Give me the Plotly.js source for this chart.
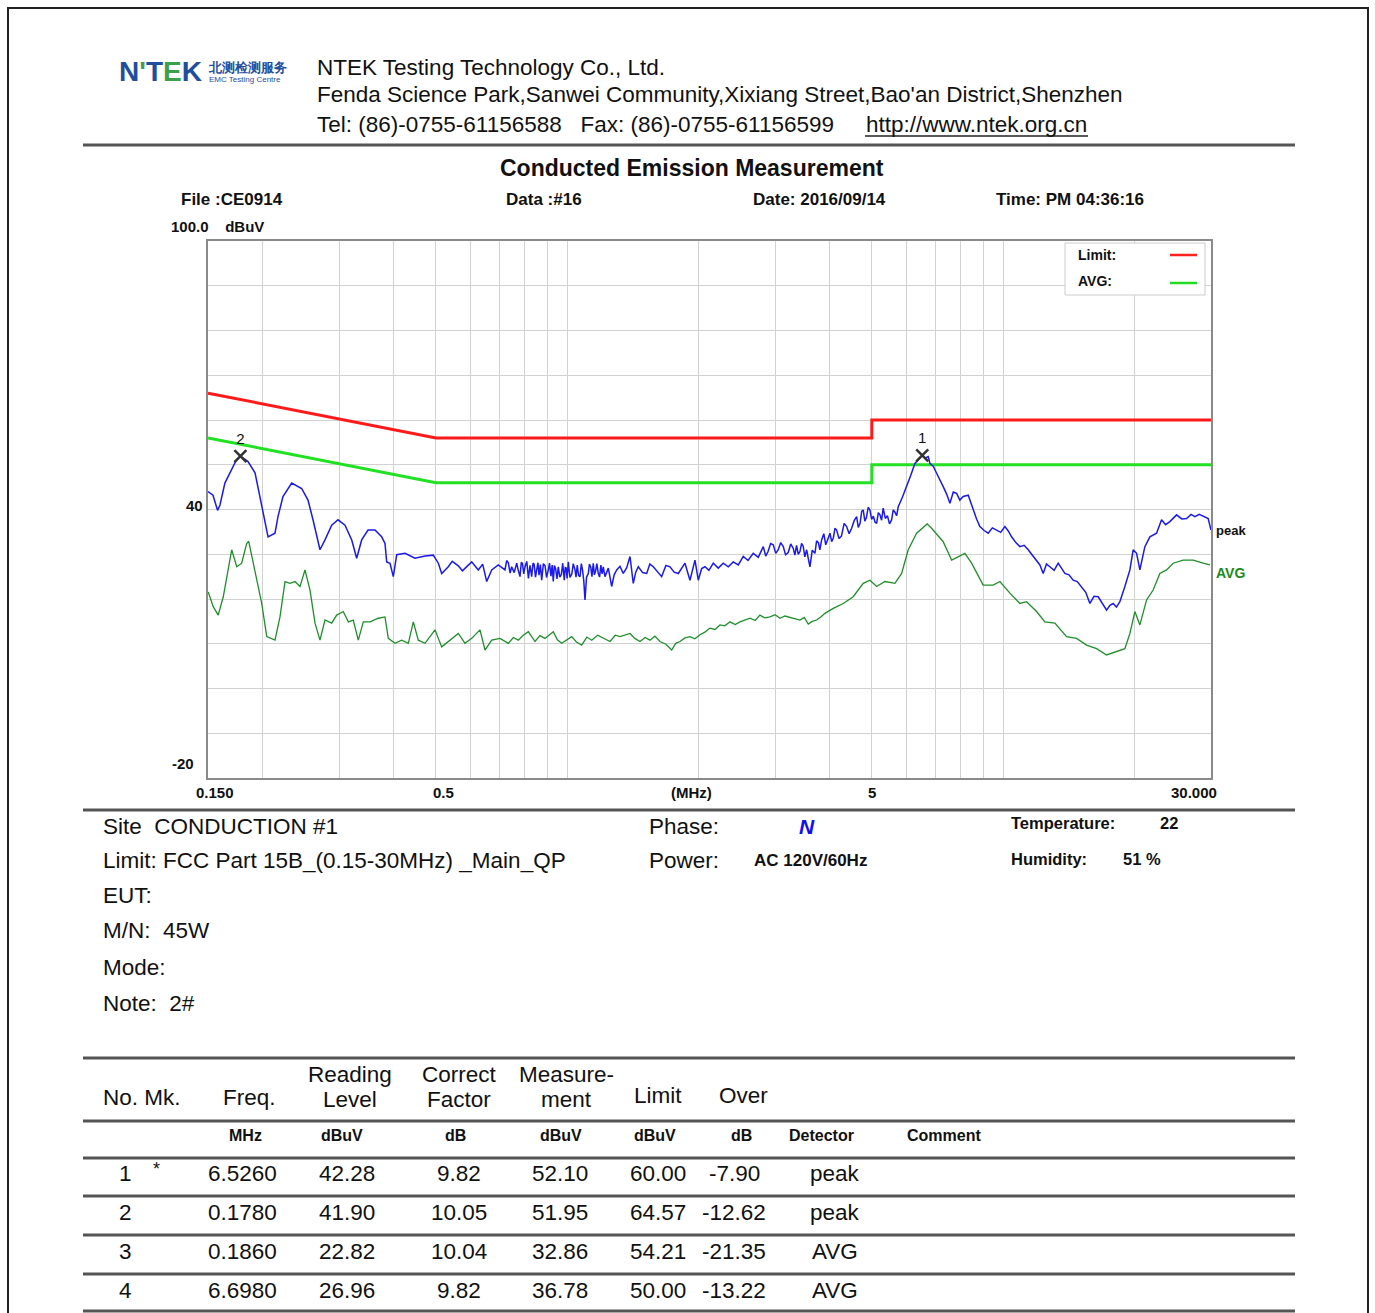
<!DOCTYPE html>
<html>
<head>
<meta charset="utf-8">
<script src="https://cdn.plot.ly/plotly-3.0.1.min.js"></script>
<style>
html,body{margin:0;padding:0;background:#fff;}
#chart{width:1375px;height:1313px;}
</style>
</head>
<body>
<div id="chart"></div>
<script>
// ---------------- DATA ----------------
const peakFreq = [0.150,0.154,0.1578,0.1598,0.1640,0.1700,0.1739,0.1780,0.1824,0.1853,0.1923,0.1973,0.2046,0.2060,0.2137,0.2171,0.2229,0.2334,0.2460,0.2544,0.2612,0.2710,0.2783,0.2883,0.2981,0.3093,0.3205,0.3290,0.3378,0.3493,0.3624,0.3754,0.3821,0.3855,0.3923,0.3992,0.4065,0.4247,0.4477,0.4720,0.4931,0.5064,0.5155,0.5338,
0.545,0.5628,0.575,0.5933,0.6040,0.6255,0.640,0.6539,0.6713,0.6952,0.7201,0.7265,0.733,0.740,0.7460,0.756,0.7661,0.773,0.7796,0.785,0.790,0.795,0.8005,0.808,0.815,0.822,0.8292,0.835,0.840,0.846,0.8515,0.857,0.862,0.868,0.8742,0.882,0.890,0.897,0.9053,0.911,0.918,0.924,0.9294,0.935,0.941,0.948,0.9544,0.962,0.970,0.977,0.9851,0.990,0.995,1.000,1.0062,1.015,1.025,1.033,1.0424,1.048,1.055,1.062,1.0703,1.078,1.085,1.092,1.0990,1.108,1.1184,1.125,1.133,1.140,1.1480,1.155,1.162,1.170,1.1790,1.187,1.195,1.203,1.2103,
1.2214,1.243,1.2653,1.282,1.2993,1.322,1.3453,1.370,1.3938,1.4182,1.437,1.4563,1.490,1.5223,1.548,1.5763,1.610,1.6477,1.685,1.7217,1.760,1.7989,1.8635,1.9135,1.9646,1.9993,2.035,2.0712,2.115,2.1640,2.222,2.2813,2.343,2.4050,2.470,2.5354,2.600,2.6729,2.745,
2.8179,2.855,2.890,2.930,2.9707,3.010,3.050,3.090,3.1318,3.170,3.215,3.258,3.3017,3.330,3.360,3.390,3.4208,3.450,3.480,3.510,3.5439,3.575,3.6063,3.650,3.7026,3.735,3.770,3.800,3.8357,3.880,3.920,3.965,4.0080,4.045,4.080,4.115,4.1523,4.205,4.260,4.320,4.3774,4.435,4.495,4.555,4.6148,4.655,4.700,4.740,4.7779,4.820,4.860,4.905,4.9508,4.995,5.040,5.085,5.1290,5.175,5.220,5.265,5.3102,5.370,5.430,5.490,5.5514,5.600,5.650,5.700,5.7492,
5.880,6.0095,6.140,6.2786,6.400,6.526,6.640,6.7362,6.7967,6.920,7.0413,7.160,7.2901,7.420,7.5539,7.690,7.8256,7.960,8.1022,8.3207,8.5417,8.700,8.8508,9.050,9.2477,9.450,9.6664,9.880,10.099,10.280,10.462,10.700,10.933,11.180,11.423,11.680,11.940,12.150,12.362,12.580,12.809,13.100,13.384,13.620,13.864,14.170,14.484,14.800,15.142,15.480,15.823,16.170,16.532,16.900,17.281,17.590,17.893,18.210,18.539,19.034,19.545,19.887,20.248,20.605,21.155,21.723,22.504,23.104,23.600,24.142,25.011,25.700,26.368,27.000,27.549,28.200,28.780,29.556,30.0];
const peakLevel = [44.0,43.2,39.8,41.0,45.9,48.8,50.9,51.95,51.3,50.7,48.2,42.9,35.4,33.9,34.7,38.4,42.9,45.9,44.7,42.1,37.7,31.0,33.2,36.5,37.7,36.5,33.2,29.1,33.2,35.4,35.4,33.9,32.4,28.3,28.0,25.0,29.9,30.2,29.1,29.6,29.8,28.0,25.7,27.2,
28.4,27.4,26.3,27.6,28.3,26.5,27.8,23.9,26.5,27.6,26.5,28.6,28.1,25.8,27.2,25.9,28.0,26.3,25.0,28.2,27.9,25.6,27.2,28.4,24.6,27.5,25.0,28.0,27.8,24.9,26.9,28.1,25.3,27.7,24.2,27.9,27.4,24.8,26.5,28.0,25.1,27.6,23.9,27.5,26.8,24.5,27.2,24.9,25.5,28.0,24.2,27.0,26.9,24.6,28.3,24.8,25.6,27.9,26.5,24.9,27.6,25.3,25.0,27.9,26.4,24.0,19.8,24.9,25.7,27.8,27.1,25.0,28.0,25.4,26.2,27.9,25.7,24.9,27.6,25.6,27.2,
25.0,26.9,22.8,25.4,26.5,27.3,25.7,27.0,29.5,23.5,26.0,27.2,25.9,25.7,27.8,27.2,26.1,25.0,27.5,27.2,26.0,25.7,28.0,24.2,28.7,24.2,26.8,27.2,26.4,28.0,26.9,28.0,27.2,28.3,27.6,29.5,28.6,30.2,29.3,
31.7,29.6,30.6,32.4,32.1,30.2,31.0,32.6,31.7,29.9,30.4,32.3,31.3,29.8,32.0,30.0,30.6,32.4,31.8,29.4,31.0,29.0,27.2,30.9,30.2,33.0,32.6,31.0,33.2,34.6,32.1,33.4,34.7,32.8,33.6,35.8,35.4,33.5,34.1,36.9,36.2,34.6,35.8,37.5,38.4,36.0,36.9,39.6,39.9,37.4,38.2,40.5,39.9,37.8,38.5,37.2,36.9,39.3,38.8,37.6,40.3,38.0,38.6,36.8,37.7,39.9,39.4,38.6,40.6,
42.8,45.1,47.6,50.3,51.2,52.10,51.5,51.8,50.3,49.6,48.1,46.8,45.1,43.5,41.4,43.9,43.6,42.1,42.9,43.2,39.9,37.8,36.2,35.3,34.7,35.9,35.4,34.9,36.2,35.2,33.9,32.6,31.7,32.0,31.0,29.8,28.7,27.6,25.7,27.8,27.2,26.4,28.0,26.9,25.7,25.4,24.2,23.9,22.8,21.5,19.0,20.6,20.5,18.9,17.5,18.6,19.0,18.2,19.4,22.8,26.5,31.0,30.2,26.5,31.7,33.9,34.7,37.7,36.6,37.3,38.8,37.9,38.0,38.9,38.4,38.9,38.5,38.0,35.4];

const avgFreq = [0.1502,0.1542,0.1583,0.1626,0.1700,0.1746,0.1792,0.1840,0.1860,0.1923,0.1992,0.2046,0.2137,0.2194,0.2253,0.2313,0.2375,0.2439,0.2504,0.2571,0.2640,0.2710,0.2783,0.2883,0.2960,0.3065,0.3148,0.3231,0.3318,0.3407,0.3530,0.3688,0.3821,0.3888,0.4028,0.4173,0.4322,0.4437,0.4556,0.4720,0.4976,0.5155,0.5386,0.5628,0.5830,0.6040,0.6311,0.6480,0.6713,0.7015,0.7329,0.7526,0.7726,0.7930,0.8146,0.8439,0.8660,0.8896,0.9294,0.9500,0.9716,1.0243,1.0500,1.0799,1.1100,1.1385,1.1750,1.2103,1.2542,1.2900,1.3222,1.3938,1.4300,1.4694,1.5100,1.5492,1.5900,1.6331,1.6850,1.7370,1.7750,1.8150,1.8640,1.9135,1.9640,2.0173,2.0700,2.1267,2.1850,2.2420,2.3000,2.3636,2.4300,2.4917,2.5600,2.6269,2.7000,2.7693,2.8400,2.9195,3.0000,3.0779,3.1600,3.2448,3.3300,3.4208,3.5000,3.5742,3.6500,3.7360,3.8200,3.9033,4.0778,4.2989,4.5321,4.7779,4.9508,5.1290,5.3587,5.6493,5.853,6.0610,6.3354,6.6192,6.698,6.8572,7.2901,7.6212,7.8926,8.1762,8.4702,9.0049,9.4932,9.8368,10.370,10.933,11.326,11.940,12.475,13.152,13.990,14.749,15.549,16.392,17.281,18.218,19.034,19.545,20.067,20.605,21.347,22.100,22.900,23.724,24.563,25.895,27.300,28.780,29.822];
const avgLevel = [21.6,18.3,16.4,20.5,31.0,27.2,28.0,32.4,32.9,26.5,19.0,11.6,10.8,16.0,23.9,23.5,23.9,22.8,26.5,22.0,14.6,10.8,15.3,14.6,16.4,17.2,14.9,15.3,10.8,14.9,14.9,15.7,16.0,11.2,10.1,10.8,10.1,14.9,10.8,10.1,13.1,9.3,10.8,12.3,10.1,11.2,13.1,8.6,10.8,11.2,10.1,11.4,10.8,11.9,12.7,10.5,11.8,11.2,12.7,10.9,10.1,11.6,10.4,9.7,11.5,10.8,11.9,11.2,10.5,11.9,11.6,12.3,11.2,10.5,11.4,10.8,11.7,10.5,9.9,8.6,10.1,10.5,11.3,11.6,11.1,12.0,12.6,13.5,13.2,14.2,14.0,14.9,14.3,14.9,15.4,15.7,15.2,16.4,15.8,16.0,16.5,15.7,16.2,15.9,15.5,15.3,15.9,14.4,15.0,15.3,16.0,16.8,17.9,19.0,20.5,23.5,24.2,22.8,23.9,23.5,25.7,31.0,34.7,36.3,36.78,35.8,32.8,28.7,29.5,30.2,28.0,23.1,23.1,23.9,21.3,19.0,19.4,17.2,14.9,14.6,11.6,11.2,9.7,8.9,7.5,8.2,8.9,12.3,17.2,14.2,19.8,22.0,25.7,26.5,28.0,28.7,28.7,28.0,27.6];

const limitFreq = [0.15, 0.5, 5, 5, 30];
const limitQP   = [66, 56, 56, 60, 60];
const limitAVG  = [56, 46, 46, 50, 50];

const markFreq  = [6.526, 0.178];
const markLevel = [52.10, 51.95];
const markLabel = ['1', '2'];

const xGridVals = [0.2,0.3,0.4,0.5,0.6,0.7,0.8,0.9,1,2,3,4,5,6,7,8,9,10,20];
const yGridVals = [-10,0,10,20,30,40,50,60,70,80,90];
const xTickVals = [0.15, 0.5, 5, 30];
const xTickText = ['0.150', '0.5', '5', '30.000'];

const tblNo       = ['1','2','3','4'];
const tblMk       = ['*','','',''];
const tblFreq     = ['6.5260','0.1780','0.1860','6.6980'];
const tblReading  = ['42.28','41.90','22.82','26.96'];
const tblCorrect  = ['9.82','10.05','10.04','9.82'];
const tblMeasure  = ['52.10','51.95','32.86','36.78'];
const tblLimit    = ['60.00','64.57','54.21','50.00'];
const tblOver     = ['-7.90','-12.62','-21.35','-13.22'];
const tblDetector = ['peak','peak','AVG','AVG'];

// ---------------- LAYOUT HELPERS ----------------
const W = 1375, H = 1313;
const L = 208, R = 1211, T = 241, B = 778;
const px = x => (x - L) / (R - L);
const py = y => (B - y) / (B - T);
const FONT = 'Liberation Sans, Arial, sans-serif';

const ann = [];
function txt(x, y, text, size, opts) {
  opts = opts || {};
  ann.push({
    xref: 'paper', yref: 'paper', x: px(x), y: py(y), text: text,
    showarrow: false, xanchor: opts.anchor || 'left', yanchor: 'middle',
    font: {family: FONT, size: size, color: opts.color || '#111'},
    align: opts.align || 'left'
  });
}
const shapes = [];
function hline(x0, x1, y, color, width) {
  shapes.push({type: 'line', xref: 'paper', yref: 'paper', x0: px(x0), x1: px(x1), y0: py(y), y1: py(y),
    line: {color: color, width: width}});
}

// Page frame
shapes.push({type:'rect', xref:'paper', yref:'paper', x0:px(8), x1:px(1368), y0:py(8), y1:py(1318),
  line:{color:'#222', width:2}, layer:'below'});

// Header
txt(117, 72, '<b><span style="color:#1f4e9e">N</span><span style="color:#3aa14a">\'</span><span style="color:#1f4e9e">T</span><span style="color:#3aa14a">E</span><span style="color:#1f4e9e">K</span></b>', 28);
txt(206, 67, '<b>北测检测服务</b>', 13, {color:'#1f4e9e'});
txt(207, 80, 'EMC Testing Centre', 8, {color:'#1f4e9e'});
txt(315, 67, 'NTEK Testing Technology Co., Ltd.', 22.5);
txt(315, 95, 'Fenda Science Park,Sanwei Community,Xixiang Street,Bao\'an District,Shenzhen', 22.5);
txt(315, 124, 'Tel: (86)-0755-61156588   Fax: (86)-0755-61156599', 22.5);
txt(864, 124, 'http://www.ntek.org.cn', 22.5);
hline(865, 1088, 136, '#222', 1.5);
hline(83, 1295, 145, '#555', 3);

txt(692, 168, '<b>Conducted Emission Measurement</b>', 23, {anchor:'center'});
txt(179, 200, '<b>File :CE0914</b>', 17);
txt(504, 200, '<b>Data :#16</b>', 17);
txt(751, 200, '<b>Date: 2016/09/14</b>', 17);
txt(994, 200, '<b>Time: PM 04:36:16</b>', 17);
txt(169, 226, '<b>100.0    dBuV</b>', 15);

// axis labels
txt(205, 505, '<b>40</b>', 15, {anchor:'right'});
txt(196, 763, '<b>-20</b>', 15, {anchor:'right'});
for (let i = 0; i < xTickVals.length; i++) {
  ann.push({xref:'x', yref:'paper', x: Math.log10(xTickVals[i]), y: py(792), text:'<b>'+xTickText[i]+'</b>',
    showarrow:false, xanchor: i===0 ? 'left' : (i===xTickVals.length-1 ? 'right' : 'center'), yanchor:'middle',
    xshift: i===1 ? 8 : (i===xTickVals.length-1 ? 8 : (i===0 ? -14 : 0)),
    font:{family:FONT, size:15, color:'#111'}});
}
txt(691, 792, '<b>(MHz)</b>', 15, {anchor:'center'});

// trace end labels
txt(1214, 530, '<b>peak</b>', 13);
txt(1214, 573, '<b>AVG</b>', 14, {color:'#1a8a1a'});

// legend box
shapes.push({type:'rect', xref:'paper', yref:'paper', x0:px(1065), x1:px(1205), y0:py(243), y1:py(295),
  line:{color:'#cccccc', width:1}, fillcolor:'#ffffff', layer:'above'});
txt(1076, 255, '<b>Limit:</b>', 14);
txt(1076, 281, '<b>AVG:</b>', 14);
hline(1170, 1197, 255, '#ff2020', 2.5);
hline(1170, 1197, 283, '#22dd22', 2.5);

// info block
hline(83, 1295, 810, '#555', 3);
txt(101, 826, 'Site  CONDUCTION #1', 22.5);
txt(101, 860, 'Limit: FCC Part 15B_(0.15-30MHz) _Main_QP', 22.5);
txt(101, 896, 'EUT:', 22.5);
txt(101, 931, 'M/N:  45W', 22.5);
txt(101, 967, 'Mode:', 22.5);
txt(101, 1003, 'Note:  2#', 22.5);
txt(647, 826, 'Phase:', 22.5);
txt(797, 826, '<b><i>N</i></b>', 21, {color:'#1010ee'});
txt(647, 860, 'Power:', 22.5);
txt(752, 860, '<b>AC 120V/60Hz</b>', 17);
txt(1009, 823, '<b>Temperature:</b>', 16.5);
txt(1158, 823, '<b>22</b>', 16.5);
txt(1009, 859, '<b>Humidity:</b>', 16.5);
txt(1121, 859, '<b>51 %</b>', 16.5);

// table
hline(83, 1295, 1058, '#555', 3);
txt(101, 1097, 'No. Mk.', 22.5);
txt(249, 1097, 'Freq.', 22.5, {anchor:'center'});
txt(350, 1074, 'Reading', 22.5, {anchor:'center'});
txt(350, 1099, 'Level', 22.5, {anchor:'center'});
txt(459, 1074, 'Correct', 22.5, {anchor:'center'});
txt(459, 1099, 'Factor', 22.5, {anchor:'center'});
txt(566, 1074, 'Measure-', 22.5, {anchor:'center'});
txt(566, 1099, 'ment', 22.5, {anchor:'center'});
txt(658, 1095, 'Limit', 22.5, {anchor:'center'});
txt(743, 1095, 'Over', 22.5, {anchor:'center'});
hline(83, 1295, 1121, '#555', 3);
txt(245, 1135, '<b>MHz</b>', 16, {anchor:'center'});
txt(342, 1135, '<b>dBuV</b>', 16, {anchor:'center'});
txt(455, 1135, '<b>dB</b>', 16, {anchor:'center'});
txt(561, 1135, '<b>dBuV</b>', 16, {anchor:'center'});
txt(655, 1135, '<b>dBuV</b>', 16, {anchor:'center'});
txt(741, 1135, '<b>dB</b>', 16, {anchor:'center'});
txt(821, 1135, '<b>Detector</b>', 16, {anchor:'center'});
txt(944, 1135, '<b>Comment</b>', 16, {anchor:'center'});
hline(83, 1295, 1158, '#555', 3);
const rowY = [1173, 1212, 1251, 1290];
for (let i = 0; i < tblNo.length; i++) {
  const y = rowY[i];
  txt(125, y, tblNo[i], 22.5, {anchor:'center'});
  if (tblMk[i]) txt(156, y - 4, tblMk[i], 18, {anchor:'center'});
  txt(242, y, tblFreq[i], 22.5, {anchor:'center'});
  txt(347, y, tblReading[i], 22.5, {anchor:'center'});
  txt(459, y, tblCorrect[i], 22.5, {anchor:'center'});
  txt(560, y, tblMeasure[i], 22.5, {anchor:'center'});
  txt(658, y, tblLimit[i], 22.5, {anchor:'center'});
  txt(734, y, tblOver[i], 22.5, {anchor:'center'});
  txt(835, y, tblDetector[i], 22.5, {anchor:'center'});
  hline(83, 1295, y + 23 + (i===3 ? -2 : 0), '#555', 3);
}

// ---------------- TRACES ----------------
const traces = [
  {x: limitFreq, y: limitQP, mode:'lines', line:{color:'#ff1a1a', width:3}, hoverinfo:'skip'},
  {x: limitFreq, y: limitAVG, mode:'lines', line:{color:'#22e022', width:3}, hoverinfo:'skip'},
  {x: avgFreq, y: avgLevel, mode:'lines', line:{color:'#1f8f2a', width:1.3}, hoverinfo:'skip'},
  {x: peakFreq, y: peakLevel, mode:'lines', line:{color:'#1a1aee', width:1.5}, hoverinfo:'skip'},
  {x: markFreq, y: markLevel, mode:'markers+text', text: markLabel, textposition:'top center',
   textfont:{family:FONT, size:15, color:'#111'},
   marker:{symbol:'x-thin-open', size:12, line:{color:'#333', width:2.5}, color:'#333'}, hoverinfo:'skip'}
];

const layout = {
  width: W, height: H,
  margin: {l: L, r: W - R, t: T, b: H - B, pad: 0},
  paper_bgcolor: '#ffffff', plot_bgcolor: '#ffffff',
  showlegend: false,
  xaxis: {type:'log', range:[Math.log10(0.15), Math.log10(30)], tickvals:xGridVals, showticklabels:false,
    ticks:'', showgrid:true, gridcolor:'#d2d2d2', gridwidth:1, zeroline:false,
    showline:true, mirror:true, linecolor:'#8a8a8a', linewidth:2},
  yaxis: {range:[-20, 100], tickvals:yGridVals, showticklabels:false, ticks:'',
    showgrid:true, gridcolor:'#d2d2d2', gridwidth:1, zeroline:false,
    showline:true, mirror:true, linecolor:'#8a8a8a', linewidth:2},
  annotations: ann,
  shapes: shapes
};

Plotly.newPlot('chart', traces, layout, {displayModeBar:false, staticPlot:true});
</script>
</body>
</html>
